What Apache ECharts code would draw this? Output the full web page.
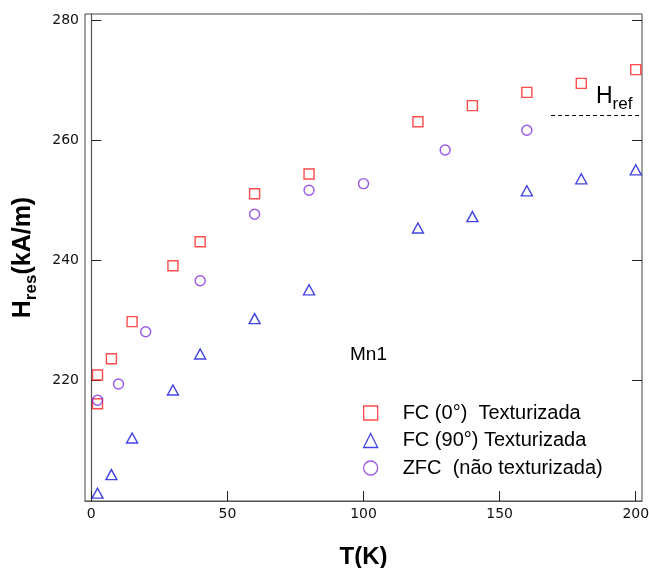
<!DOCTYPE html>
<html>
<head>
<meta charset="utf-8">
<script src="https://cdn.jsdelivr.net/npm/echarts@6/dist/echarts.min.js"></script>
<style>
html,body{margin:0;padding:0;background:#fff;}
#chart{width:649px;height:568px;}
</style>
</head>
<body>
<div id="chart"></div>
<script>
// ---- data ----
var xTicks = [0, 50, 100, 150, 200];
var yTicks = [220, 240, 260, 280];

var fc0T = [2.3, 2.3, 7.4, 15, 30, 40, 60, 80, 120, 140, 160, 180, 200];
var fc0H = [220.9, 216.1, 223.6, 229.8, 239.1, 243.1, 251.1, 254.4, 263.1, 265.8, 268.0, 269.5, 271.8];

var fc90T = [2.3, 7.4, 15, 30, 40, 60, 80, 120, 140, 160, 180, 200];
var fc90H = [201.2, 204.3, 210.4, 218.4, 224.4, 230.3, 235.1, 245.4, 247.3, 251.6, 253.6, 255.1];

var zfcT = [2.3, 10, 20, 40, 60, 80, 100, 130, 160];
var zfcH = [216.7, 219.4, 228.1, 236.6, 247.7, 251.7, 252.8, 258.4, 261.7];

var hrefValue = 264.2;
var hrefFrom = 168.9;

var seriesNames = ['FC (0°)  Texturizada', 'FC (90°) Texturizada', 'ZFC  (não texturizada)'];

function pairs(xs, ys) { return xs.map(function (x, i) { return [x, ys[i]]; }); }

var xMin = -2.3, xMax = 202.3, yMin = 199.9, yMax = 281.07;

var chart = echarts.init(document.getElementById('chart'), null, {renderer: 'canvas'});

var tickFont = {fontFamily: 'DejaVu Sans', fontSize: 14, color: '#111'};

var option = {
  backgroundColor: '#fff',
  animation: false,
  grid: {left: 85, right: 7, top: 14, bottom: 67, show: true, borderColor: '#444', borderWidth: 1,
         containLabel: false, outerBoundsMode: 'none'},
  xAxis: {
    type: 'value', min: xMin, max: xMax,
    axisLine: {show: true, lineStyle: {color: '#555', width: 1.2}},
    axisTick: {show: true, inside: true, length: 10, customValues: xTicks, lineStyle: {color: '#222'}},
    axisLabel: Object.assign({customValues: xTicks, margin: 6}, tickFont),
    splitLine: {show: false},
    name: 'T(K)', nameLocation: 'middle', nameGap: 44,
    nameTextStyle: {fontFamily: 'Liberation Sans', fontWeight: 'bold', fontSize: 24, color: '#000'}
  },
  yAxis: [{
    type: 'value', min: yMin, max: yMax, position: 'left',
    axisLine: {show: true, lineStyle: {color: '#555', width: 1.2}},
    axisTick: {show: true, inside: true, length: 10, customValues: yTicks, lineStyle: {color: '#222'}},
    axisLabel: Object.assign({customValues: yTicks, margin: 6}, tickFont),
    splitLine: {show: false},
    name: '{a|H}{b|res}{a|(kA/m)}', nameLocation: 'middle', nameGap: 45, nameRotate: 90,
    nameTextStyle: {
      color: '#000',
      rich: {
        a: {fontFamily: 'Liberation Sans', fontWeight: 'bold', fontSize: 25, color: '#000'},
        b: {fontFamily: 'Liberation Sans', fontWeight: 'bold', fontSize: 17, color: '#000', padding: [16, 0, 0, 0]}
      }
    }
  }, {
    type: 'value', min: yMin, max: yMax, position: 'right',
    axisLine: {show: false},
    axisTick: {show: true, inside: true, length: 10, customValues: yTicks, lineStyle: {color: '#222'}},
    axisLabel: {show: false},
    splitLine: {show: false}
  }],
  legend: {
    orient: 'vertical', left: 358, top: 398,
    itemWidth: 14, itemHeight: 14, itemGap: 7.5,
    data: seriesNames,
    itemStyle: {borderWidth: 1.3},
    textStyle: {fontFamily: 'Liberation Sans', fontSize: 20, color: '#000', lineHeight: 20, padding: [0, 0, 0, 20]}
  },
  series: [{
    name: seriesNames[0], type: 'scatter', symbol: 'rect', symbolSize: 10,
    itemStyle: {color: 'rgba(255,255,255,0)', borderColor: '#ff1f1f', borderWidth: 1.4},
    data: pairs(fc0T, fc0H),
    markLine: {
      silent: true, symbol: 'none', animation: false,
      lineStyle: {color: '#000', type: [4, 3], width: 1},
      label: {show: false},
      data: [[{coord: [hrefFrom, hrefValue]}, {coord: [xMax, hrefValue]}]]
    }
  }, {
    name: seriesNames[1], type: 'scatter', symbol: 'triangle', symbolSize: [11, 10],
    itemStyle: {color: 'rgba(255,255,255,0)', borderColor: '#1414dc', borderWidth: 1.4},
    data: pairs(fc90T, fc90H)
  }, {
    name: seriesNames[2], type: 'scatter', symbol: 'circle', symbolSize: 10,
    itemStyle: {color: 'rgba(255,255,255,0)', borderColor: '#7f2fe0', borderWidth: 1.4},
    data: pairs(zfcT, zfcH)
  }],
  graphic: [{
    type: 'text', x: 350, y: 355,
    style: {text: 'Mn1', font: '19px "Liberation Sans"', fill: '#000', textVerticalAlign: 'middle'}
  }, {
    type: 'text', x: 596, y: 80,
    style: {
      text: '{a|H}{b|ref}', fill: '#000', textVerticalAlign: 'top',
      rich: {
        a: {fontFamily: 'Liberation Sans', fontSize: 23, color: '#000'},
        b: {fontFamily: 'Liberation Sans', fontSize: 17, color: '#000', padding: [16, 0, 0, 0]}
      }
    }
  }]
};
chart.setOption(option);
</script>
</body>
</html>
